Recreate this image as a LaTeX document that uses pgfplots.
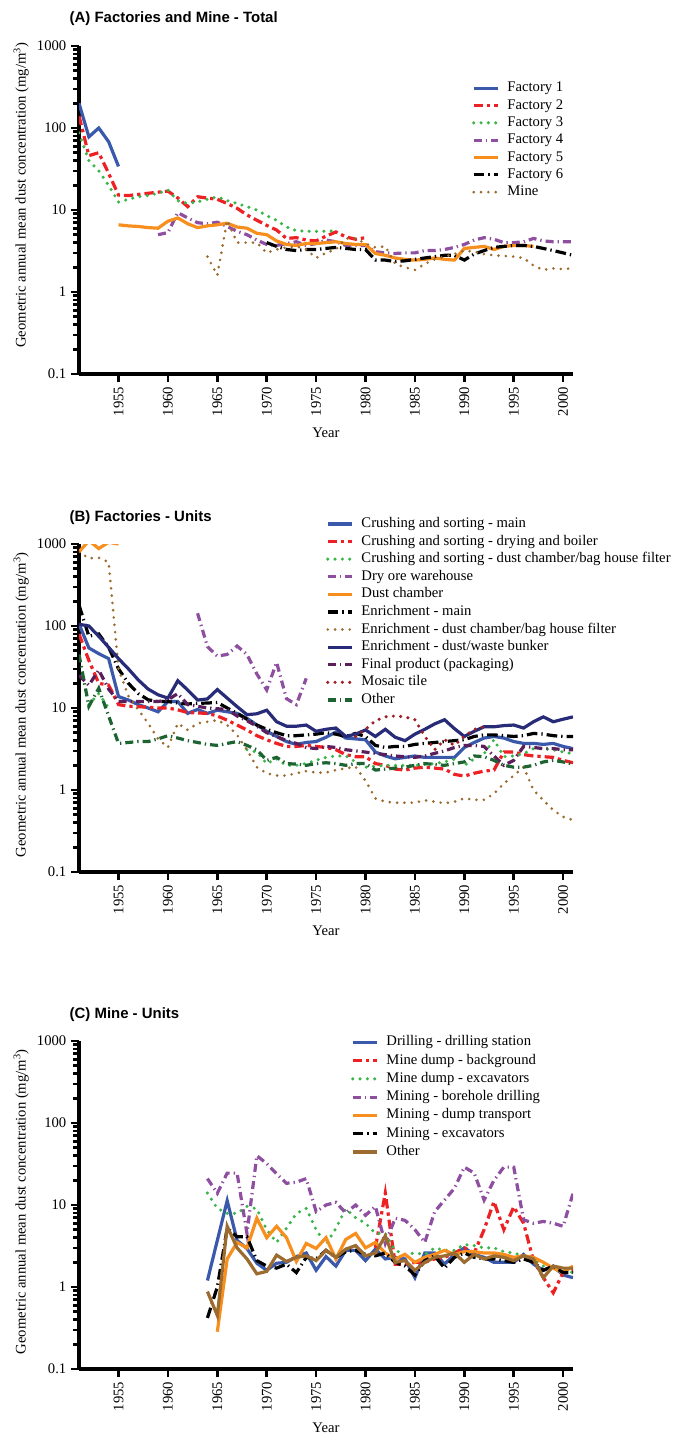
\documentclass[border=0pt]{standalone}
\usepackage{fontspec}
\setmainfont{Liberation Serif}
\newfontfamily\titlefont{Liberation Sans}
\usepackage{pgfplots}
\pgfplotsset{compat=1.18}

\definecolor{cblue}{RGB}{59,89,170}
\definecolor{cred}{RGB}{237,32,36}
\definecolor{cgreen}{RGB}{57,181,74}
\definecolor{cpurple}{RGB}{142,79,160}
\definecolor{corange}{RGB}{247,143,30}
\definecolor{cbrown}{RGB}{156,107,48}
\definecolor{cnavy}{RGB}{40,44,120}
\definecolor{cdpurple}{RGB}{90,30,90}
\definecolor{cdred}{RGB}{160,30,35}
\definecolor{cdgreen}{RGB}{30,100,50}

\tikzset{
  lsolid/.style={line width=2.4pt},
  ldash/.style={line width=2.4pt, dash pattern=on 7pt off 3pt on 2.5pt off 3pt},
  ldot/.style={line width=2.6pt, line cap=round, dash pattern=on 0pt off 5.5pt},
  ldashdot/.style={line width=2.4pt, dash pattern=on 6pt off 3pt on 1pt off 3pt},
  llong/.style={line width=2.4pt, dash pattern=on 8pt off 3pt on 1pt off 3pt},
}
\newcommand{\fs}{\fontsize{11}{13}\selectfont}

\begin{document}
\begin{tikzpicture}

%% ---------------- (A) Factories and Mine - Total ----------------
\node[anchor=west, font=\titlefont\bfseries\fontsize{11.2}{13}\selectfont] at (48.75pt,-14.25pt) {(A) Factories and Mine - Total};
\begin{axis}[
    scale only axis, width=370.5pt, height=246pt,
    at={(59.25pt,-34.5pt)}, anchor=north west,
    ymode=log, ymin=0.1, ymax=1000, xmin=1951, xmax=2001,
    axis lines=left, axis line style={-, line width=3pt},
    xtick={1955,1960,...,2000},
    ytick={0.1,1,10,100,1000}, yticklabels={0.1,1,10,100,1000},
    extra y ticks={0.2,0.3,0.4,0.5,0.6,0.7,0.8,0.9,2,3,4,5,6,7,8,9,20,30,40,50,60,70,80,90,200,300,400,500,600,700,800,900},
    extra y tick labels={}, extra y tick style={major tick length=4.5pt},
    tick align=outside, major tick length=6pt,
    tick style={black, line width=2pt},
    tick label style={font=\fs, /pgf/number format/assume math mode=true},
    xticklabel style={rotate=90, anchor=east, /pgf/number format/1000 sep={}},
    label style={font=\fs},
    ylabel={Geometric annual mean dust concentration (mg/m\textsuperscript{3})},
    ylabel style={at={(axis description cs:-0.117,0.545)}, anchor=center},
    xlabel={Year},
    xlabel style={at={(axis description cs:0.5,-0.18)}, anchor=center},
    legend image code/.code={\draw[#1] (0pt,0pt) -- (18pt,0pt);},
    legend cell align=left,
    legend style={draw=none, fill=none, inner sep=0pt, outer sep=0pt,
      font=\fs, row sep=0pt, column sep=4.5pt,
      nodes={inner sep=1.5pt, text height=7.8pt, text depth=2.2pt},
      at={(axis description cs:0.7955,0.713)}, anchor=west},
  ]
\addplot[cblue, lsolid] coordinates {(1951,200)(1952,78)(1953,100)(1954,68)(1955,34)};
\addlegendentry{Factory 1}
\addplot[cred, ldash] coordinates {(1951,140)(1952,46)(1953,50)(1954,28)(1955,15.2)(1956,15)(1957,15.5)(1958,16)(1959,16.5)(1960,17)(1961,14)(1962,11)(1963,14.5)(1964,14)(1965,13.5)(1966,12)(1967,10.5)(1968,8.7)(1969,7.5)(1970,6.5)(1971,5.7)(1972,4.5)(1973,4.6)(1974,4.3)(1975,4.2)(1976,4.8)(1977,5.4)(1978,4.7)(1979,4.4)(1980,4.6)};
\addlegendentry{Factory 2}
\addplot[cgreen, ldot] coordinates {(1951,87)(1952,40)(1953,30)(1954,20)(1955,12.5)(1956,13.5)(1957,14.5)(1958,15)(1959,16)(1960,17.5)(1961,13)(1962,12)(1963,12.6)(1964,13.5)(1965,14.5)(1966,13)(1967,12)(1968,11)(1969,10)(1970,8.5)(1971,7.5)(1972,6.2)(1973,5.6)(1974,5.5)(1975,5.5)(1976,5.5)(1977,5.6)};
\addlegendentry{Factory 3}
\addplot[cpurple, ldashdot] coordinates {(1959,5.0)(1960,5.3)(1961,9.3)(1962,8)(1963,7)(1964,6.8)(1965,7.1)(1966,6.3)(1967,5.5)(1968,5)(1969,4.3)(1970,3.8)(1971,3.7)(1972,3.9)(1973,4.1)(1974,3.7)(1975,3.9)(1976,4.3)(1977,4.1)(1978,3.7)(1979,3.7)(1980,3.7)(1981,3.1)(1982,3.0)(1983,2.95)(1984,3.0)(1985,3.0)(1986,3.2)(1987,3.2)(1988,3.3)(1989,3.5)(1990,3.8)(1991,4.3)(1992,4.6)(1993,4.4)(1994,4.0)(1995,4.0)(1996,4.1)(1997,4.5)(1998,4.2)(1999,4.1)(2000,4.1)(2001,4.1)};
\addlegendentry{Factory 4}
\addplot[corange, lsolid] coordinates {(1955,6.6)(1956,6.4)(1957,6.3)(1958,6.1)(1959,6.0)(1960,7.3)(1961,8.0)(1962,6.8)(1963,6.1)(1964,6.4)(1965,6.6)(1966,6.9)(1967,6.2)(1968,6.0)(1969,5.2)(1970,5.0)(1971,4.2)(1972,3.8)(1973,3.7)(1974,3.9)(1975,3.9)(1976,4.0)(1977,4.1)(1978,3.9)(1979,3.8)(1980,3.8)(1981,2.95)(1982,2.8)(1983,2.6)(1984,2.5)(1985,2.45)(1986,2.5)(1987,2.6)(1988,2.5)(1989,2.45)(1990,3.4)(1991,3.5)(1992,3.6)(1993,3.3)(1994,3.6)(1995,3.7)(1996,3.7)(1997,3.6)};
\addlegendentry{Factory 5}
\addplot[black, llong] coordinates {(1970,4.0)(1971,3.6)(1972,3.3)(1973,3.2)(1974,3.3)(1975,3.3)(1976,3.4)(1977,3.5)(1978,3.4)(1979,3.3)(1980,3.3)(1981,2.45)(1982,2.45)(1983,2.35)(1984,2.4)(1985,2.5)(1986,2.6)(1987,2.7)(1988,2.8)(1989,2.8)(1990,2.45)(1991,2.9)(1992,3.2)(1993,3.5)(1994,3.6)(1995,3.7)(1996,3.7)(1997,3.6)(1998,3.4)(1999,3.2)(2000,3.0)(2001,2.8)};
\addlegendentry{Factory 6}
\addplot[cbrown, ldot, line width=2.2pt] coordinates {(1964,2.7)(1965,1.6)(1966,7.5)(1967,4.0)(1968,4.0)(1969,4.0)(1970,3.0)(1971,3.3)(1972,3.5)(1973,3.6)(1974,3.3)(1975,2.6)(1976,3.0)(1977,3.3)(1978,4.5)(1979,4.5)(1980,3.9)(1981,3.5)(1982,3.6)(1983,2.2)(1984,2.0)(1985,1.86)(1986,2.2)(1987,2.5)(1988,2.7)(1989,2.9)(1990,3.2)(1991,3.1)(1992,2.9)(1993,2.8)(1994,2.75)(1995,2.7)(1996,2.6)(1997,2.1)(1998,1.86)(1999,1.94)(2000,1.9)(2001,1.95)};
\addlegendentry{Mine}
\end{axis}

%% ---------------- (B) Factories - Units ----------------
\node[anchor=west, font=\titlefont\bfseries\fontsize{11.2}{13}\selectfont] at (48.75pt,-388.5pt) {(B) Factories - Units};
\begin{axis}[
    scale only axis, width=370.5pt, height=246pt,
    at={(59.25pt,-408pt)}, anchor=north west,
    ymode=log, ymin=0.1, ymax=1000, xmin=1951, xmax=2001,
    unbounded coords=jump,
    axis lines=left, axis line style={-, line width=3pt},
    xtick={1955,1960,...,2000},
    ytick={0.1,1,10,100,1000}, yticklabels={0.1,1,10,100,1000},
    extra y ticks={0.2,0.3,0.4,0.5,0.6,0.7,0.8,0.9,2,3,4,5,6,7,8,9,20,30,40,50,60,70,80,90,200,300,400,500,600,700,800,900},
    extra y tick labels={}, extra y tick style={major tick length=4.5pt},
    tick align=outside, major tick length=6pt,
    tick style={black, line width=2pt},
    tick label style={font=\fs, /pgf/number format/assume math mode=true},
    xticklabel style={rotate=90, anchor=east, /pgf/number format/1000 sep={}},
    label style={font=\fs},
    ylabel={Geometric annual mean dust concentration (mg/m\textsuperscript{3})},
    ylabel style={at={(axis description cs:-0.117,0.51)}, anchor=center},
    xlabel={Year},
    xlabel style={at={(axis description cs:0.5,-0.18)}, anchor=center},
    legend image code/.code={\draw[#1] (0pt,0pt) -- (18pt,0pt);},
    legend cell align=left,
    legend style={draw=none, fill=none, inner sep=0pt, outer sep=0pt,
      font=\fs, row sep=0pt, column sep=4.5pt,
      nodes={inner sep=1.5pt, text height=7.8pt, text depth=2.4pt},
      at={(axis description cs:0.5,0.793)}, anchor=west},
  ]
\addplot[cblue, lsolid] coordinates {(1951,106)(1952,54)(1953,46)(1954,40)(1955,13.8)(1956,12.5)(1957,11)(1958,10)(1959,9.0)(1960,12)(1961,12)(1962,8.6)(1963,9.6)(1964,8.6)(1965,9.4)(1966,9.0)(1967,8.6)(1968,7.5)(1969,6.2)(1970,5.2)(1971,4.5)(1972,3.9)(1973,3.6)(1974,3.8)(1975,3.9)(1976,4.4)(1977,5.1)(1978,4.3)(1979,4.2)(1980,4.1)(1981,2.9)(1982,2.6)(1983,2.4)(1984,2.5)(1985,2.6)(1986,2.5)(1987,2.5)(1988,2.5)(1989,2.5)(1990,3.3)(1991,3.8)(1992,4.3)(1993,4.5)(1994,4.3)(1995,3.9)(1996,3.7)(1997,3.7)(1998,3.6)(1999,3.7)(2000,3.4)(2001,3.2)};
\addlegendentry{Crushing and sorting - main}
\addplot[cred, ldash] coordinates {(1951,80)(1952,38)(1953,20)(1954,19)(1955,11)(1956,10.5)(1957,10.4)(1958,10.2)(1959,10)(1960,10)(1961,9.5)(1962,8.8)(1963,8.7)(1964,8.6)(1965,8)(1966,7.1)(1967,6.2)(1968,5.4)(1969,4.6)(1970,4.1)(1971,3.7)(1972,3.4)(1973,3.4)(1974,3.5)(1975,3.4)(1976,3.3)(1977,3.1)(1978,2.7)(1979,2.55)(1980,2.55)(1981,2.1)(1982,2.0)(1983,1.8)(1984,1.75)(1985,1.85)(1986,1.9)(1987,1.85)(1988,1.8)(1989,1.55)(1990,1.48)(1991,1.6)(1992,1.7)(1993,1.75)(1994,2.9)(1995,2.9)(1996,2.7)(1997,2.6)(1998,2.55)(1999,2.5)(2000,2.3)(2001,2.15)};
\addlegendentry{Crushing and sorting - drying and boiler}
\addplot[cgreen, ldot] coordinates {(1952,11)(1953,15)(1954,10)(1955,nan)(1968,3.1)(1969,2.9)(1970,2.1)(1971,2.4)(1972,2.0)(1973,2.0)(1974,2.1)(1975,2.3)(1976,2.5)(1977,2.6)(1978,2.6)(1979,2.2)(1980,1.9)(1981,1.95)(1982,2.0)(1983,2.0)(1984,2.0)(1985,2.0)(1986,2.05)(1987,2.1)(1988,2.2)(1989,2.37)(1990,2.0)(1991,2.4)(1992,2.77)(1993,4.1)(1994,2.55)(1995,2.6)(1996,2.77)(1997,3.2)(1998,3.2)(1999,3.1)(2000,2.9)(2001,2.77)};
\addlegendentry{Crushing and sorting - dust chamber/bag house filter}
\addplot[cpurple, ldashdot] coordinates {(1963,143)(1964,56)(1965,43)(1966,45)(1967,57)(1968,45)(1969,26)(1970,16.6)(1971,36)(1972,13)(1973,11)(1974,23)};
\addlegendentry{Dry ore warehouse}
\addplot[corange, lsolid] coordinates {(1951,800)(1952,1100)(1953,880)(1954,1050)(1955,1000)};
\addlegendentry{Dust chamber}
\addplot[black, llong] coordinates {(1951,180)(1952,75)(1953,80)(1954,55)(1955,30)(1956,20)(1957,15)(1958,12.6)(1959,12)(1960,12)(1961,11.5)(1962,11.2)(1963,11.4)(1964,11.5)(1965,11.7)(1966,10)(1967,8.6)(1968,7.3)(1969,6.2)(1970,5.5)(1971,5.0)(1972,4.6)(1973,4.6)(1974,4.7)(1975,4.8)(1976,5.0)(1977,4.8)(1978,4.5)(1979,4.9)(1980,4.5)(1981,3.5)(1982,3.3)(1983,3.4)(1984,3.4)(1985,3.6)(1986,3.7)(1987,3.8)(1988,3.9)(1989,4.0)(1990,4.1)(1991,4.5)(1992,4.7)(1993,4.7)(1994,4.6)(1995,4.5)(1996,4.6)(1997,4.9)(1998,4.8)(1999,4.6)(2000,4.5)(2001,4.5)};
\addlegendentry{Enrichment - main}
\addplot[cbrown, ldot, line width=2.2pt] coordinates {(1951,800)(1952,670)(1953,680)(1954,600)(1955,30)(1956,14)(1957,9.5)(1958,6.5)(1959,4.2)(1960,3.3)(1961,6.5)(1962,5.4)(1963,6.5)(1964,6.8)(1965,7.1)(1966,6.2)(1967,4.7)(1968,3.1)(1969,1.9)(1970,1.6)(1971,1.5)(1972,1.5)(1973,1.6)(1974,1.7)(1975,1.63)(1976,1.63)(1977,1.75)(1978,1.84)(1979,1.92)(1980,1.3)(1981,0.79)(1982,0.72)(1983,0.70)(1984,0.70)(1985,0.70)(1986,0.75)(1987,0.72)(1988,0.69)(1989,0.72)(1990,0.79)(1991,0.76)(1992,0.76)(1993,0.9)(1994,1.2)(1995,1.5)(1996,1.9)(1997,1.0)(1998,0.75)(1999,0.57)(2000,0.47)(2001,0.43)};
\addlegendentry{Enrichment - dust chamber/bag house filter}
\addplot[cnavy, lsolid] coordinates {(1951,105)(1952,100)(1953,75)(1954,55)(1955,40)(1956,30)(1957,22)(1958,17)(1959,14.5)(1960,13.2)(1961,21.5)(1962,16.6)(1963,12.5)(1964,12.9)(1965,16.8)(1966,13.2)(1967,10.4)(1968,8.3)(1969,8.5)(1970,9.4)(1971,6.8)(1972,6.0)(1973,6.0)(1974,6.2)(1975,5.2)(1976,5.5)(1977,5.7)(1978,4.5)(1979,4.8)(1980,5.4)(1981,4.5)(1982,5.5)(1983,4.4)(1984,4.0)(1985,4.8)(1986,5.5)(1987,6.4)(1988,7.2)(1989,5.6)(1990,4.5)(1991,5.2)(1992,5.9)(1993,5.9)(1994,6.1)(1995,6.2)(1996,5.7)(1997,6.8)(1998,7.8)(1999,6.8)(2000,7.3)(2001,7.8)};
\addlegendentry{Enrichment - dust/waste bunker}
\addplot[cdpurple, ldashdot] coordinates {(1951,25)(1952,19)(1953,29)(1954,17)(1955,12)(1956,12)(1957,12)(1958,12)(1959,12)(1960,12.6)(1961,15)(1962,11)(1963,10.5)(1964,10)(1965,9.8)(1966,9.6)(1967,8)(1968,7)(1969,6)(1970,5)(1971,4.5)(1972,4)(1973,3.7)(1974,3.3)(1975,3.2)(1976,3.4)(1977,3.3)(1978,3.1)(1979,3.0)(1980,2.9)(1981,2.8)(1982,2.7)(1983,2.6)(1984,2.55)(1985,2.5)(1986,2.6)(1987,2.8)(1988,3.0)(1989,3.3)(1990,3.5)(1991,3.5)(1992,3.4)(1993,2.6)(1994,2.0)(1995,2.3)(1996,3.4)(1997,3.3)(1998,3.2)(1999,3.2)(2000,3.1)(2001,3.1)};
\addlegendentry{Final product (packaging)}
\addplot[cdred, ldot] coordinates {(1979,4.5)(1980,5.5)(1981,7)(1982,7.8)(1983,8)(1984,7.8)(1985,7.2)(1986,4.5)(1987,3.1)(1988,4.1)(1989,3.5)(1990,4.5)(1991,5.5)(1992,5.9)};
\addlegendentry{Mosaic tile}
\addplot[cdgreen, ldashdot] coordinates {(1951,45)(1952,10.5)(1953,17.4)(1954,8)(1955,3.7)(1956,3.8)(1957,3.9)(1958,3.9)(1959,4.2)(1960,4.6)(1961,4.3)(1962,4.0)(1963,3.8)(1964,3.6)(1965,3.5)(1966,3.7)(1967,3.9)(1968,3.5)(1969,3.1)(1970,2.3)(1971,2.5)(1972,2.1)(1973,2.07)(1974,2.0)(1975,2.1)(1976,2.15)(1977,2.1)(1978,2.0)(1979,2.1)(1980,2.1)(1981,1.75)(1982,1.8)(1983,1.85)(1984,1.9)(1985,2.0)(1986,2.1)(1987,2.05)(1988,2.0)(1989,2.1)(1990,2.2)(1991,2.6)(1992,2.55)(1993,2.3)(1994,2.0)(1995,1.9)(1996,1.9)(1997,2.0)(1998,2.2)(1999,2.3)(2000,2.2)(2001,2.07)};
\addlegendentry{Other}
\end{axis}

%% ---------------- (C) Mine - Units ----------------
\node[anchor=west, font=\titlefont\bfseries\fontsize{11.2}{13}\selectfont] at (48.75pt,-761.25pt) {(C) Mine - Units};
\begin{axis}[
    scale only axis, width=370.5pt, height=246pt,
    at={(59.25pt,-780.75pt)}, anchor=north west,
    ymode=log, ymin=0.1, ymax=1000, xmin=1951, xmax=2001,
    axis lines=left, axis line style={-, line width=3pt},
    xtick={1955,1960,...,2000},
    ytick={0.1,1,10,100,1000}, yticklabels={0.1,1,10,100,1000},
    extra y ticks={0.2,0.3,0.4,0.5,0.6,0.7,0.8,0.9,2,3,4,5,6,7,8,9,20,30,40,50,60,70,80,90,200,300,400,500,600,700,800,900},
    extra y tick labels={}, extra y tick style={major tick length=4.5pt},
    tick align=outside, major tick length=6pt,
    tick style={black, line width=2pt},
    tick label style={font=\fs, /pgf/number format/assume math mode=true},
    xticklabel style={rotate=90, anchor=east, /pgf/number format/1000 sep={}},
    label style={font=\fs},
    ylabel={Geometric annual mean dust concentration (mg/m\textsuperscript{3})},
    ylabel style={at={(axis description cs:-0.117,0.51)}, anchor=center},
    xlabel={Year},
    xlabel style={at={(axis description cs:0.5,-0.18)}, anchor=center},
    legend image code/.code={\draw[#1] (0pt,0pt) -- (18pt,0pt);},
    legend cell align=left,
    legend style={draw=none, fill=none, inner sep=0pt, outer sep=0pt,
      font=\fs, row sep=0pt, column sep=4.5pt,
      nodes={inner sep=1.5pt, text height=8pt, text depth=2.7pt},
      at={(axis description cs:0.5506,0.829)}, anchor=west},
  ]
\addplot[cblue, lsolid] coordinates {(1964,1.2)(1965,3.7)(1966,11.3)(1967,3.7)(1968,2.95)(1969,1.95)(1970,1.6)(1971,1.95)(1972,2.0)(1973,2.35)(1974,2.6)(1975,1.6)(1976,2.35)(1977,1.8)(1978,2.8)(1979,2.8)(1980,2.1)(1981,2.9)(1982,2.2)(1983,2.3)(1984,2.2)(1985,1.3)(1986,2.6)(1987,2.6)(1988,1.9)(1989,2.5)(1990,3.0)(1991,2.5)(1992,2.3)(1993,2.0)(1994,2.0)(1995,2.0)(1996,2.5)(1997,1.9)(1998,1.6)(1999,1.8)(2000,1.4)(2001,1.3)};
\addlegendentry{Drilling - drilling station}
\addplot[cred, ldash] coordinates {(1981,3)(1982,14)(1983,1.9)(1984,1.9)(1985,2.0)(1986,2.0)(1987,2.2)(1988,2.3)(1989,2.6)(1990,3.0)(1991,2.6)(1992,5)(1993,11)(1994,5)(1995,9.5)(1996,6)(1997,2.1)(1998,1.3)(1999,0.85)(2000,1.5)(2001,1.6)};
\addlegendentry{Mine dump - background}
\addplot[cgreen, ldot] coordinates {(1964,14)(1965,9.1)(1966,7.9)(1967,7.9)(1968,9.6)(1969,9)(1970,5)(1971,3.5)(1972,5.2)(1973,7.9)(1974,9.1)(1975,5)(1976,3.3)(1977,5.2)(1978,9)(1979,7)(1980,6)(1981,4.5)(1982,4.5)(1983,2.8)(1984,2.5)(1985,2.6)(1986,2.5)(1987,3)(1988,2.8)(1989,2.8)(1990,3.3)(1991,3.2)(1992,3.0)(1993,3.0)(1994,2.7)(1995,2.6)(1996,2.4)(1997,2.2)(1998,1.8)(1999,1.6)(2000,1.6)(2001,1.5)};
\addlegendentry{Mine dump - excavators}
\addplot[cpurple, ldashdot] coordinates {(1964,21)(1965,13.9)(1966,24.5)(1967,24.5)(1968,4.5)(1969,40)(1970,32)(1971,24)(1972,18.4)(1973,19)(1974,21)(1975,8.3)(1976,10)(1977,10.8)(1978,8)(1979,10)(1980,7.5)(1981,9.6)(1982,3.4)(1983,6.9)(1984,6.5)(1985,5)(1986,3.5)(1987,8.3)(1988,11.5)(1989,16)(1990,29)(1991,24.5)(1992,11.5)(1993,20)(1994,29)(1995,29)(1996,6.6)(1997,6.0)(1998,6.3)(1999,6.0)(2000,5.5)(2001,13.8)};
\addlegendentry{Mining - borehole drilling}
\addplot[corange, lsolid] coordinates {(1965,0.285)(1966,2.2)(1967,3.5)(1968,3.0)(1969,6.9)(1970,4.0)(1971,5.5)(1972,4.0)(1973,2.05)(1974,3.4)(1975,2.95)(1976,4.0)(1977,2.2)(1978,3.8)(1979,4.5)(1980,3)(1981,3.5)(1982,2.6)(1983,2.2)(1984,2.5)(1985,2.0)(1986,2.3)(1987,2.5)(1988,2.8)(1989,2.5)(1990,2.7)(1991,2.7)(1992,2.6)(1993,2.6)(1994,2.5)(1995,2.3)(1996,2.4)(1997,2.3)(1998,2.0)(1999,1.7)(2000,1.5)(2001,1.8)};
\addlegendentry{Mining - dump transport}
\addplot[black, llong] coordinates {(1964,0.42)(1965,1.0)(1966,5.2)(1967,4.1)(1968,4.1)(1969,2.1)(1970,1.8)(1971,1.7)(1972,1.9)(1973,1.5)(1974,2.3)(1975,2.2)(1976,2.8)(1977,2.3)(1978,2.7)(1979,2.8)(1980,2.5)(1981,2.4)(1982,2.6)(1983,2.0)(1984,1.8)(1985,1.4)(1986,2.1)(1987,2.4)(1988,1.7)(1989,2.3)(1990,2.6)(1991,2.3)(1992,2.2)(1993,2.2)(1994,2.1)(1995,2.0)(1996,2.2)(1997,2.0)(1998,1.6)(1999,1.8)(2000,1.5)(2001,1.5)};
\addlegendentry{Mining - excavators}
\addplot[cbrown, lsolid] coordinates {(1964,0.88)(1965,0.45)(1966,5.5)(1967,3.0)(1968,2.2)(1969,1.45)(1970,1.55)(1971,2.45)(1972,2.05)(1973,2.3)(1974,2.4)(1975,2.1)(1976,2.8)(1977,2.3)(1978,2.9)(1979,3.2)(1980,2.4)(1981,2.6)(1982,4.2)(1983,2.0)(1984,2.1)(1985,1.6)(1986,2.0)(1987,2.3)(1988,2.4)(1989,2.6)(1990,2.0)(1991,2.5)(1992,2.2)(1993,2.4)(1994,2.3)(1995,2.1)(1996,2.4)(1997,2.2)(1998,1.3)(1999,1.8)(2000,1.7)(2001,1.7)};
\addlegendentry{Other}
\end{axis}

\pgfresetboundingbox
\path[use as bounding box] (0pt,0pt) rectangle (506.25pt,-1078.5pt);
\end{tikzpicture}
\end{document}
